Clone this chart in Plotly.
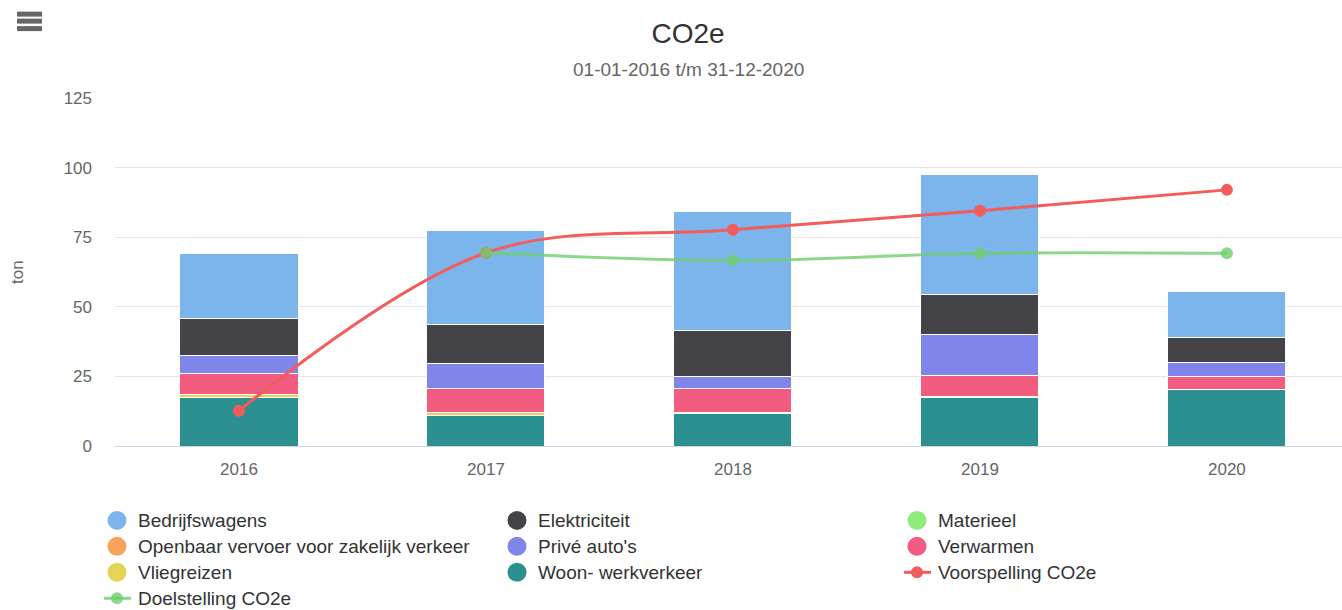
import plotly.graph_objects as go

years = ["2016", "2017", "2018", "2019", "2020"]

bedrijfswagens = [23.3, 33.7, 42.7, 43.4, 16.5]
elektriciteit = [13.1, 14.1, 16.4, 14.3, 8.8]
materieel = [0, 0, 0, 0, 0]
openbaar_vervoer = [0, 0, 0, 0, 0]
prive_autos = [6.5, 8.8, 4.3, 14.6, 5.3]
verwarmen = [7.6, 8.7, 8.6, 7.5, 4.5]
vliegreizen = [1.0, 1.0, 0.5, 0.4, 0.0]
woon_werkverkeer = [17.5, 11.0, 11.6, 17.5, 20.3]

voorspelling = [12.7, 69.4, 77.7, 84.5, 92.0]
doelstelling = [None, 69.4, 66.6, 69.2, 69.2]

names = ["Bedrijfswagens", "Elektriciteit", "Materieel", "Openbaar vervoer voor zakelijk verkeer",
         "Privé auto's", "Verwarmen", "Vliegreizen", "Woon- werkverkeer"]
series = [bedrijfswagens, elektriciteit, materieel, openbaar_vervoer,
          prive_autos, verwarmen, vliegreizen, woon_werkverkeer]
colors = ["#7cb5ec", "#434348", "#90ed7d", "#f7a35c", "#8085e9", "#f15c80", "#e4d354", "#2b908f"]
line_names = ["Voorspelling CO2e", "Doelstelling CO2e"]
line_colors = ["#f45b5b", "rgba(110,205,110,0.8)"]

fig = go.Figure()

# stacked bars: the first series is drawn on top, so add them in reverse
for name, vals, col in reversed(list(zip(names, series, colors))):
    fig.add_trace(go.Bar(
        x=years, y=vals, name=name, marker=dict(color=col, line=dict(color="white", width=1)),
        width=0.478, showlegend=False))

for name, vals, col in zip(line_names, [voorspelling, doelstelling], line_colors):
    fig.add_trace(go.Scatter(
        x=years, y=vals, name=name, mode="lines+markers", showlegend=False,
        line=dict(color=col, width=3, shape="spline"),
        marker=dict(color=col, size=12)))

# page geometry (body margin removed below, so figure pixels = screen pixels)
W, H = 1342, 610
PL, PR, PT, PB = 115, 1342, 98, 446.5   # plot area in screen pixels


def px(x):
    return (x - PL) / (PR - PL)


def py(y):
    return (PB - y) / (PB - PT)


shapes = []
# menu icon
for yy in [14, 21, 28.5]:
    shapes.append(dict(type="line", xref="paper", yref="paper",
                       x0=px(17), x1=px(42), y0=py(yy), y1=py(yy),
                       line=dict(color="#666666", width=5)))

annotations = [
    dict(text="01-01-2016 t/m 31-12-2020", xref="paper", yref="paper",
         x=px(688), y=py(69), xanchor="center", yanchor="middle", showarrow=False,
         font=dict(size=19, color="#666666")),
    dict(text="ton", xref="paper", yref="paper", x=px(17), y=0.5, textangle=-90,
         xanchor="center", yanchor="middle", showarrow=False,
         font=dict(size=17, color="#666666")),
]

# legend, laid out in three columns
legend_names = names + line_names
legend_colors = colors + line_colors
col_x = [117, 517, 917]
row_y = [521, 547, 573, 599]
for i, (name, col) in enumerate(zip(legend_names, legend_colors)):
    cx = col_x[i % 3]
    cy = row_y[i // 3]
    if i < len(names):
        r = 9.5
        shapes.append(dict(type="circle", xref="paper", yref="paper",
                           x0=px(cx - r), x1=px(cx + r), y0=py(cy - r), y1=py(cy + r),
                           fillcolor=col, line=dict(width=0)))
    else:
        shapes.append(dict(type="line", xref="paper", yref="paper",
                           x0=px(cx - 13), x1=px(cx + 14), y0=py(cy), y1=py(cy),
                           line=dict(color=col, width=3)))
        r = 6
        shapes.append(dict(type="circle", xref="paper", yref="paper",
                           x0=px(cx - r), x1=px(cx + r), y0=py(cy - r), y1=py(cy + r),
                           fillcolor=col, line=dict(width=0)))
    annotations.append(dict(text=name, xref="paper", yref="paper", x=px(cx + 19), y=py(cy),
                            xanchor="left", yanchor="middle", showarrow=False,
                            font=dict(size=19, color="#333333")))

fig.update_layout(
    width=W, height=H,
    margin=dict(l=PL, r=0, t=PT, b=H - PB, pad=0),
    paper_bgcolor="white", plot_bgcolor="white",
    barmode="stack",
    showlegend=False,
    font=dict(family="Liberation Sans, Arial, sans-serif", color="#666666"),
    title=dict(text="CO2e", x=688 / W, xref="container", xanchor="center",
               y=1 - 33 / H, yref="container", yanchor="middle",
               font=dict(size=28, color="#333333")),
    annotations=annotations,
    shapes=shapes,
    xaxis=dict(type="category", range=[-0.502, 4.466], showgrid=False, showline=True,
               linecolor="#ccd6eb", linewidth=1, ticks="", tickfont=dict(size=17, color="#666666"),
               ticklabelstandoff=8, fixedrange=True),
    yaxis=dict(range=[0, 125], tickvals=[0, 25, 50, 75, 100, 125], showgrid=True,
               gridcolor="#e6e6e6", gridwidth=1, zeroline=False, showline=False,
               tickfont=dict(size=17, color="#666666"), ticklabelstandoff=22, fixedrange=True),
    hovermode="closest",
)

fig.write_html("out.html", config={"displayModeBar": False},
               post_script="document.body.style.margin='0';document.body.style.overflow='hidden';")
